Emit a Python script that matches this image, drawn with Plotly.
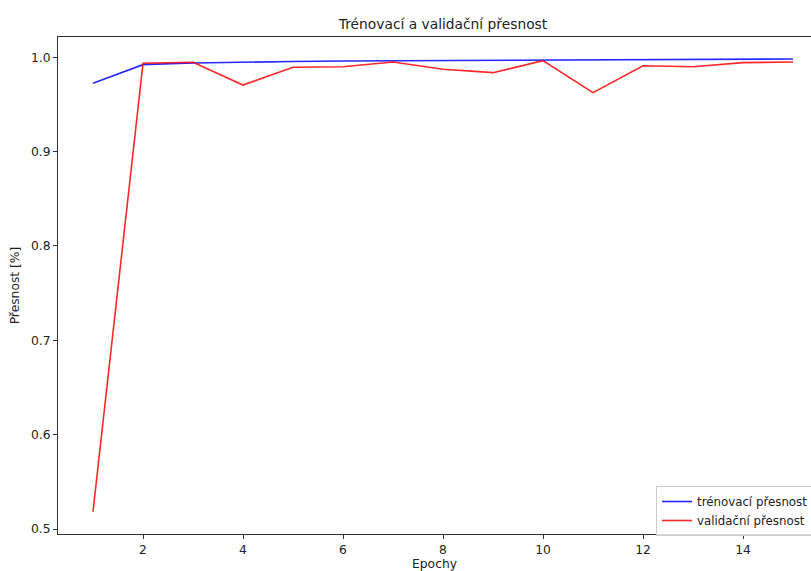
import plotly.graph_objects as go

# Accuracy per training epoch
epochs = list(range(1, 16))
train_acc = [0.9724, 0.9922, 0.9940, 0.9950, 0.9955, 0.9960, 0.9963, 0.9966,
             0.9968, 0.9970, 0.9972, 0.9975, 0.9977, 0.9979, 0.9982]
val_acc = [0.5183, 0.9936, 0.9947, 0.9706, 0.9894, 0.9900, 0.9950, 0.9873,
           0.9837, 0.9964, 0.9625, 0.9911, 0.9900, 0.9943, 0.9950]

x_ticks = [2, 4, 6, 8, 10, 12, 14]
y_ticks = [0.5, 0.6, 0.7, 0.8, 0.9, 1.0]

FONT = "DejaVu Sans"
W, H = 811, 571
ML, MT, MB = 58, 37, 37
BASE = 12.3

fig = go.Figure()
fig.add_trace(go.Scatter(x=epochs, y=train_acc, mode="lines",
                         name="trénovací přesnost",
                         line=dict(color="rgba(0,0,255,0.85)", width=1.6)))
fig.add_trace(go.Scatter(x=epochs, y=val_acc, mode="lines",
                         name="validační přesnost",
                         line=dict(color="rgba(255,0,0,0.85)", width=1.6)))

plot_w = W - ML
fig.update_layout(
    width=W, height=H,
    margin=dict(l=ML, r=0, t=MT, b=MB, pad=0, autoexpand=False),
    paper_bgcolor="white", plot_bgcolor="white",
    font=dict(family=FONT, size=BASE, color="#222"),
    title=dict(text="Trénovací a validační přesnost",
               x=(ML + (ML + 50 * 15.4)) / 2 / W, xanchor="center",
               y=1 - 24 / H, yanchor="middle",
               font=dict(family=FONT, size=13.8, color="#222")),
    showlegend=True,
    legend=dict(x=(656 - ML) / plot_w, xanchor="left",
                y=(534 - 486) / (H - MT - MB), yanchor="top",
                bgcolor="rgba(255,255,255,0.8)", bordercolor="#cccccc",
                borderwidth=1, font=dict(family=FONT, size=11.8, color="#222"),
                tracegroupgap=0, itemwidth=30),
)
fig.update_xaxes(
    range=[0.3, 0.3 + plot_w / 50], tickvals=x_ticks,
    showgrid=False, zeroline=False,
    showline=True, linecolor="#333", linewidth=1, mirror=True,
    ticks="outside", ticklen=4, tickcolor="#333",
    tickfont=dict(family=FONT, size=BASE),
    title=dict(text="Epochy", standoff=5, font=dict(family=FONT, size=BASE)),
)
fig.update_yaxes(
    range=[0.4947, 1.0215], tickvals=y_ticks, tickformat=".1f",
    showgrid=False, zeroline=False,
    showline=True, linecolor="#333", linewidth=1, mirror=False,
    ticks="outside", ticklen=4, tickcolor="#333",
    tickfont=dict(family=FONT, size=BASE),
    title=dict(text="Přesnost [%]", standoff=8, font=dict(family=FONT, size=BASE)),
)

fig.write_html("out.html")
